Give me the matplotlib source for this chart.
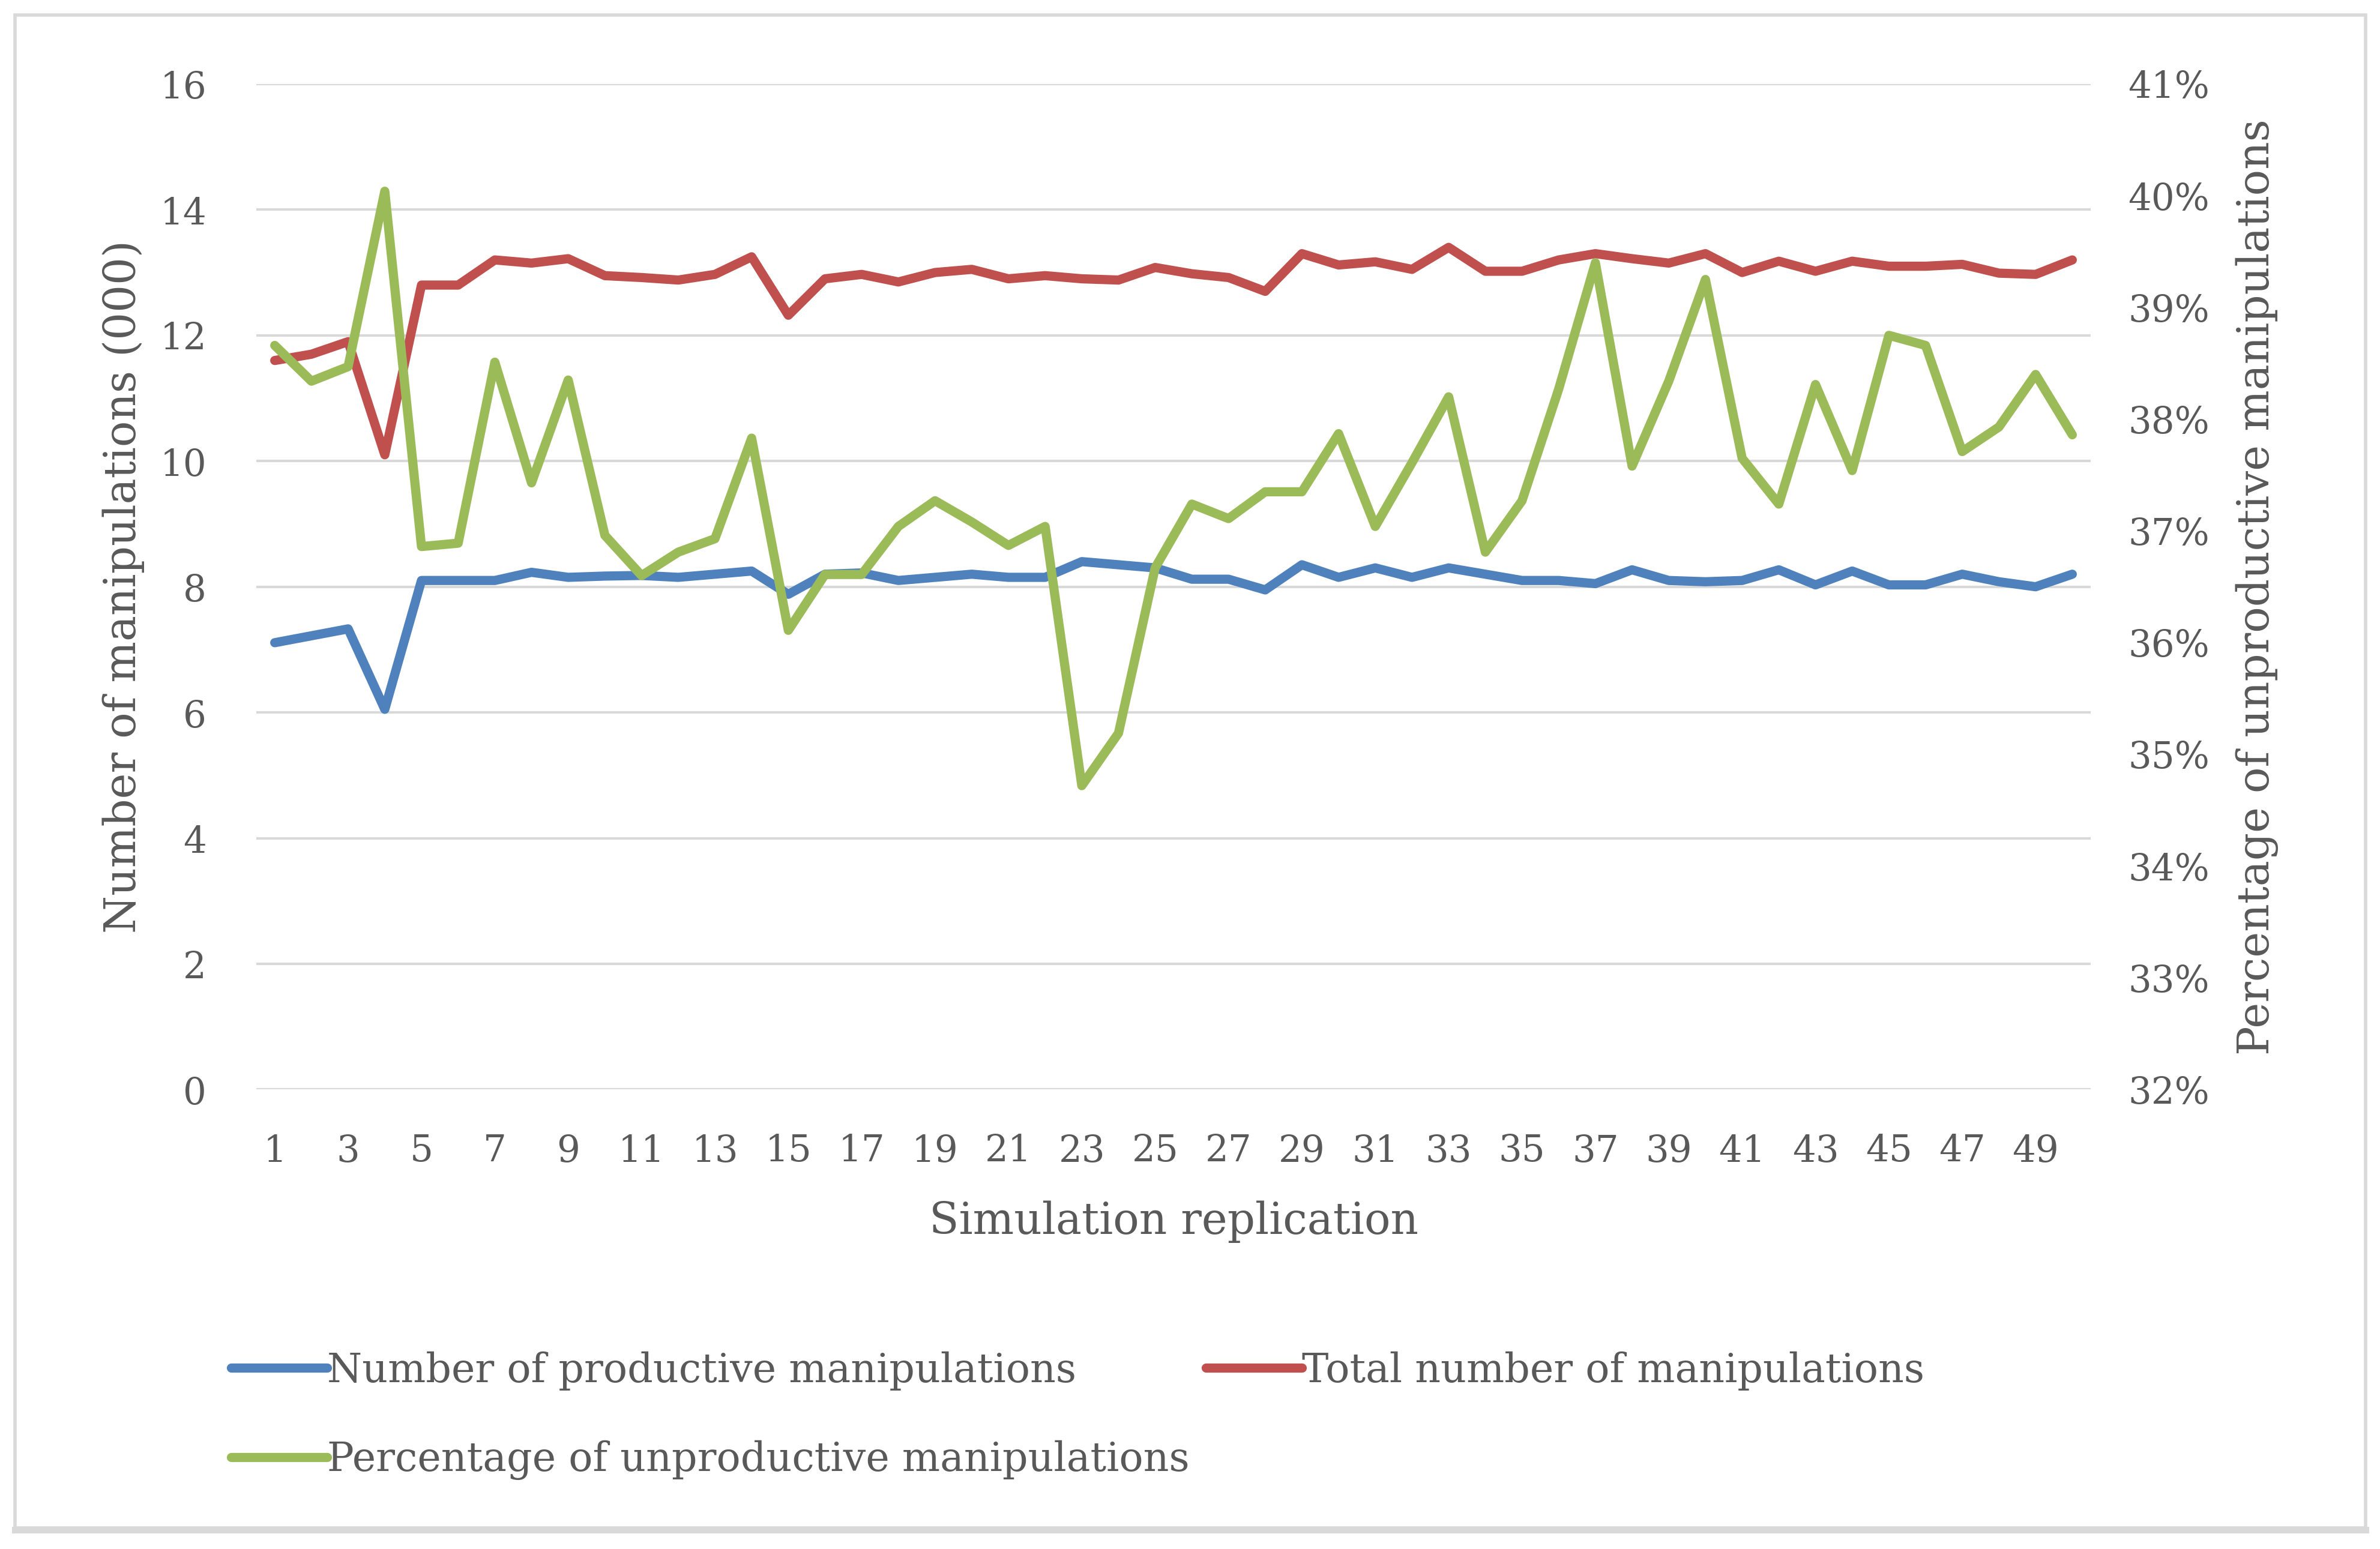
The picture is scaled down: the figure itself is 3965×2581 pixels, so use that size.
import matplotlib
matplotlib.use("Agg")
import matplotlib.pyplot as plt
from matplotlib.patches import Rectangle
from matplotlib.lines import Line2D
from matplotlib.ticker import FuncFormatter

# 数据
replications = list(range(1, 51))
productive = [7.11, 7.22, 7.33, 6.05, 8.10, 8.10, 8.10, 8.23, 8.15, 8.17,
              8.18, 8.15, 8.20, 8.25, 7.88, 8.20, 8.22, 8.10, 8.15, 8.20,
              8.15, 8.15, 8.40, 8.35, 8.30, 8.12, 8.12, 7.95, 8.35, 8.15,
              8.30, 8.15, 8.30, 8.20, 8.10, 8.10, 8.05, 8.27, 8.10, 8.08,
              8.10, 8.27, 8.03, 8.25, 8.03, 8.03, 8.20, 8.08, 8.00, 8.20]
total = [11.60, 11.70, 11.90, 10.10, 12.80, 12.80, 13.20, 13.15, 13.22, 12.95,
         12.92, 12.88, 12.97, 13.25, 12.32, 12.90, 12.97, 12.85, 13.00, 13.05,
         12.90, 12.95, 12.90, 12.88, 13.08, 12.98, 12.92, 12.70, 13.30, 13.12,
         13.17, 13.05, 13.40, 13.02, 13.02, 13.20, 13.30, 13.22, 13.15, 13.30,
         13.00, 13.18, 13.02, 13.18, 13.10, 13.10, 13.13, 12.99, 12.97, 13.20]
pct_unproductive = [38.66, 38.34, 38.47, 40.04, 36.86, 36.89, 38.51, 37.43, 38.35, 36.96,
                    36.60, 36.81, 36.93, 37.83, 36.11, 36.61, 36.61, 37.04, 37.27, 37.08,
                    36.87, 37.04, 34.72, 35.19, 36.67, 37.24, 37.11, 37.35, 37.35, 37.87,
                    37.04, 37.61, 38.20, 36.81, 37.27, 38.27, 39.40, 37.58, 38.34, 39.25,
                    37.65, 37.24, 38.31, 37.54, 38.75, 38.66, 37.71, 37.93, 38.40, 37.86]

label_prod = "Number of productive manipulations"
label_total = "Total number of manipulations"
label_pct = "Percentage of unproductive manipulations"

plt.rcParams["font.family"] = ["DejaVu Serif"]
grey_text = "#595959"
fs = 44

fig = plt.figure(figsize=(39.66, 25.81), dpi=100)
ax = fig.add_axes([0.1077, 0.2966, 0.7705, 0.6492])
ax2 = ax.twinx()

lw = 11
l1, = ax.plot(replications, productive, color="#4F81BD", linewidth=lw, solid_joinstyle="round", solid_capstyle="round", label=label_prod)
l2, = ax.plot(replications, total, color="#C0504D", linewidth=lw, solid_joinstyle="round", solid_capstyle="round", label=label_total)
l3, = ax2.plot(replications, pct_unproductive, color="#9BBB59", linewidth=lw, solid_joinstyle="round", solid_capstyle="round", label=label_pct)

ax.set_xlim(0.5, 50.5)
ax.set_ylim(0, 16)
ax.set_yticks(range(0, 17, 2))
ax2.set_ylim(32, 41)
ax2.set_yticks(range(32, 42))
ax2.yaxis.set_major_formatter(FuncFormatter(lambda v, p: f"{int(v)}%"))
ax.set_xticks(range(1, 51, 2))

ax.grid(axis="y", color="#D9D9D9", linewidth=3)
ax.set_axisbelow(True)
for a in (ax, ax2):
    for s in a.spines.values():
        s.set_visible(False)
    a.tick_params(length=0, labelsize=fs, labelcolor=grey_text)
ax.tick_params(axis="x", pad=52)
ax.tick_params(axis="y", pad=60)
ax2.tick_params(axis="y", pad=45)

ax.set_xlabel("Simulation replication", fontsize=fs + 8, color=grey_text, labelpad=38)
ax.set_ylabel("Number of manipulations (000)", fontsize=fs + 8, color=grey_text, labelpad=18)
ax2.set_ylabel(label_pct, fontsize=fs + 8, color=grey_text, labelpad=31)

fig.legend([l1, l3, l2], [label_prod, label_pct, label_total], ncol=2,
           loc="upper left", bbox_to_anchor=(0.082, 0.151), frameon=False,
           fontsize=fs + 4, labelcolor=grey_text, handlelength=2.4,
           handletextpad=0.0, columnspacing=0.4, labelspacing=1.25)

# 外框
fig.patches.append(Rectangle((0.0063, 0.0136), 0.9874, 0.9767, transform=fig.transFigure,
                             fill=False, edgecolor="#D9D9D9", linewidth=4))
fig.lines.append(Line2D([0.0063, 0.9937], [0.0125, 0.0125], transform=fig.transFigure,
                        color="#D9D9D9", linewidth=8))

fig.savefig("out.png", dpi=100)
